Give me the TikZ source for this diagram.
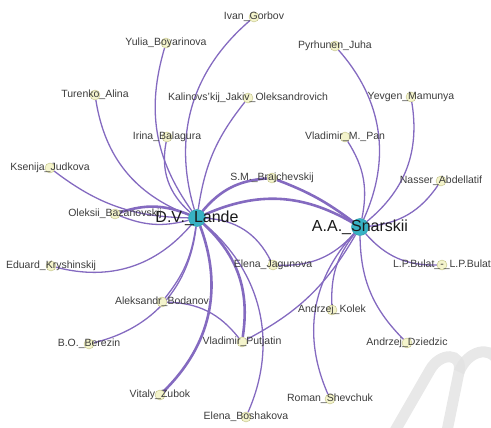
\documentclass[tikz,border=0pt]{standalone}
\usepackage{fontspec}
\setmainfont{Liberation Sans}
\usetikzlibrary{backgrounds}

\definecolor{edgecol}{RGB}{132,106,192}
\definecolor{hubfill}{RGB}{56,178,196}
\definecolor{hubline}{RGB}{40,150,165}
\definecolor{authfill}{RGB}{244,244,204}
\definecolor{authline}{RGB}{190,190,130}
\definecolor{namegray}{RGB}{60,60,60}
\definecolor{wmgray}{RGB}{226,226,226}

\begin{document}
\begin{tikzpicture}[x=1pt, y=-1pt]

\tikzset{hub/.style = {shape=circle, draw=hubline, fill=hubfill, minimum size=17pt, inner sep=0pt}}
\tikzset{author/.style = {shape=circle, draw=authline, fill=authfill, minimum size=10pt, inner sep=0pt}}
\tikzset{authname/.style = {font=\fontsize{10.5}{12}\selectfont, text=namegray, inner sep=0pt}}
\tikzset{hubname/.style = {font=\fontsize{16}{18}\selectfont, text=black!90, inner sep=0pt}}
\tikzset{edge/.style = {draw=edgecol, line width=1.3pt}}
\tikzset{heavy/.style = {draw=edgecol, line width=2.6pt}}

\useasboundingbox (0,0) rectangle (491,428);

%hubs
\node[hub, label={[hubname]center:D.V.\_Lande}] (lande) at (197,218) {};
\node[hub, label={[hubname]center:A.A.\_Snarskii}] (snarskii) at (360,227) {};

%authors
\node[author, label={[authname]center:Ivan\_Gorbov}] (gorbov) at (254,17) {};
\node[author, label={[authname]center:Yulia\_Boyarinova}] (boyarinova) at (166,43) {};
\node[author, label={[authname]center:Pyrhunen\_Juha}] (pyrhunen) at (335,46) {};
\node[author, label={[authname]center:Turenko\_Alina}] (turenko) at (95,95) {};
\node[author, label={[authname]center:Kalinovs'kij\_Jakiv\_Oleksandrovich}] (kalinovskij) at (248,98) {};
\node[author, label={[authname]center:Yevgen\_Mamunya}] (mamunya) at (411,97) {};
\node[author, label={[authname]center:Irina\_Balagura}] (balagura) at (167,137) {};
\node[author, label={[authname]center:Vladimir\_M.\_Pan}] (pan) at (345,137) {};
\node[author, label={[authname]center:Ksenija\_Judkova}] (judkova) at (50,168) {};
\node[author, label={[authname]center:S.M.\_Brajchevskij}] (brajchevskij) at (272,178) {};
\node[author, label={[authname]center:Nasser\_Abdellatif}] (abdellatif) at (441,181) {};
\node[author, label={[authname]center:Oleksii\_Bazanovskij}] (bazanovskij) at (115,214) {};
\node[author, label={[authname]center:Eduard\_Kryshinskij}] (kryshinskij) at (51,266) {};
\node[author, label={[authname]center:L.P.Bulat\_-\_L.P.Bulat}] (bulat) at (442,265) {};
\node[author, label={[authname]center:Elena\_Jagunova}] (jagunova) at (273,265) {};
\node[author, label={[authname]center:Aleksandr\_Bodanov}] (bodanov) at (162,302) {};
\node[author, label={[authname]center:Andrzej\_Kolek}] (kolek) at (332,310) {};
\node[author, label={[authname]center:B.O.\_Berezin}] (berezin) at (89,344) {};
\node[author, label={[authname]center:Vladimir\_Putjatin}] (putjatin) at (242,342) {};
\node[author, label={[authname]center:Andrzej\_Dziedzic}] (dziedzic) at (407,343) {};
\node[author, label={[authname]center:Vitaly\_Zubok}] (zubok) at (160,395) {};
\node[author, label={[authname]center:Roman\_Shevchuk}] (shevchuk) at (330,399) {};
\node[author, label={[authname]center:Elena\_Boshakova}] (boshakova) at (246,417) {};

%edges
\begin{pgfonlayer}{background}
\path (lande) edge[edge, bend left=33] (gorbov);
\path (lande) edge[edge, bend left=26] (boyarinova);
\path (lande) edge[edge, bend left=30] (turenko);
\path (lande) edge[edge, bend left=15] (kalinovskij);
\path (lande) edge[edge, bend left=30] (balagura);
\path (lande) edge[edge, bend left=18] (judkova);
\path (lande) edge[heavy, bend right=20] (bazanovskij);
\path (lande) edge[edge, bend left=18] (bazanovskij);
\path (lande) edge[edge, bend left=32] (kryshinskij);
\path (lande) edge[heavy, bend left=23] (brajchevskij);
\path (lande) edge[heavy, bend left=27] (snarskii);
\path (lande) edge[edge, bend left=30] (jagunova);
\path (lande) edge[edge, bend left=15] (bodanov);
\path (lande) edge[edge, bend left=35] (berezin);
\path (lande) edge[heavy, bend left=28] (putjatin);
\path (lande) edge[heavy, bend left=33] (zubok);
\path (lande) edge[edge, bend left=37] (boshakova);
\path (bodanov) edge[edge, bend left=25] (putjatin);
\path (brajchevskij) edge[heavy, bend left=8] (snarskii);
\path (snarskii) edge[edge, bend right=33] (pyrhunen);
\path (snarskii) edge[edge, bend right=30] (mamunya);
\path (snarskii) edge[edge, bend right=22] (pan);
\path (snarskii) edge[edge, bend right=25] (abdellatif);
\path (snarskii) edge[edge, bend right=25] (bulat);
\path (snarskii) edge[edge, bend right=20] (kolek);
\path (snarskii) edge[edge, bend right=22] (dziedzic);
\path (snarskii) edge[edge, bend right=33] (shevchuk);
\path (snarskii) edge[edge, bend left=25] (jagunova);
\path (snarskii) edge[edge, bend left=16] (putjatin);
\end{pgfonlayer}

%watermark
\draw[wmgray, line width=11pt, opacity=0.8] (392,436) -- (430,370) .. controls (440,352) and (463,352) .. (459,372) -- (446,436);
\draw[wmgray, line width=11pt, opacity=0.8] (459,372) .. controls (468,350) and (490,346) .. (497,360);

\end{tikzpicture}
\end{document}
